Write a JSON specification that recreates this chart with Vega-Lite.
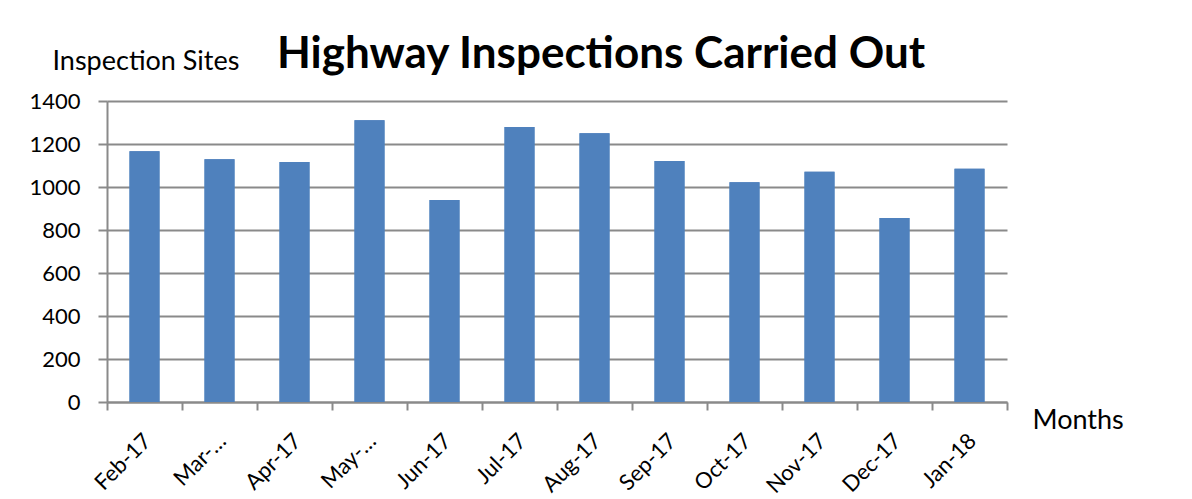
{
  "$schema": "https://vega.github.io/schema/vega-lite/v6.json",
  "autosize": {"type": "none"},
  "width": 900,
  "height": 301,
  "padding": {"left": 107, "top": 101, "right": 185, "bottom": 98},
  "background": "white",
  "title": {
    "text": "Highway Inspections Carried Out",
    "font": "Lato",
    "fontSize": 44,
    "fontWeight": "bold",
    "color": "black",
    "anchor": "middle",
    "frame": "group",
    "dx": 44,
    "dy": 65,
    "baseline": "alphabetic",
    "offset": 0
  },
  "data": {
    "values": [
      {"month": "Feb-17", "sites": 1166},
      {"month": "Mar-…", "sites": 1129},
      {"month": "Apr-17", "sites": 1116},
      {"month": "May-…", "sites": 1310},
      {"month": "Jun-17", "sites": 940},
      {"month": "Jul-17", "sites": 1279},
      {"month": "Aug-17", "sites": 1250},
      {"month": "Sep-17", "sites": 1121},
      {"month": "Oct-17", "sites": 1022},
      {"month": "Nov-17", "sites": 1071},
      {"month": "Dec-17", "sites": 856},
      {"month": "Jan-18", "sites": 1085}
    ]
  },
  "layer": [
    {
      "mark": {"type": "bar", "color": "#4f81bd"},
      "encoding": {
        "x": {
          "field": "month",
          "type": "nominal",
          "sort": null,
          "scale": {"paddingInner": 0.6, "paddingOuter": 0.3},
          "axis": {
            "title": "Months",
            "titleX": 925,
            "titleY": 26,
            "titleAlign": "left",
            "titleBaseline": "alphabetic",
            "titleAngle": 0,
            "titleFontSize": 27,
            "titleFontWeight": "normal",
            "labelAngle": -45,
            "labelAlign": "right",
            "labelBaseline": "top",
            "labelFontSize": 22,
            "labelOffset": -4,
            "labelPadding": 20,
            "tickSize": 8,
            "bandPosition": 1.75,
            "grid": false
          }
        },
        "y": {
          "field": "sites",
          "type": "quantitative",
          "scale": {"domain": [0, 1400], "nice": false},
          "axis": {
            "title": "Inspection Sites",
            "titleAngle": 0,
            "titleX": -55,
            "titleY": -32,
            "titleAlign": "left",
            "titleBaseline": "alphabetic",
            "titleFontSize": 27,
            "titleFontWeight": "normal",
            "values": [0, 200, 400, 600, 800, 1000, 1200, 1400],
            "format": "d",
            "labelFontSize": 22,
            "labelPadding": 18,
            "tickSize": 9,
            "grid": true
          }
        }
      }
    },
    {
      "mark": {"type": "bar", "color": "#4f81bd"},
      "encoding": {
        "x": {
          "field": "month",
          "type": "nominal",
          "sort": null,
          "axis": {
            "orient": "bottom",
            "title": null,
            "labels": false,
            "domain": false,
            "grid": false,
            "values": ["Feb-17"],
            "tickSize": 8,
            "bandPosition": -0.75
          }
        },
        "y": {"field": "sites", "type": "quantitative"}
      }
    }
  ],
  "resolve": {"axis": {"x": "independent"}},
  "config": {
    "font": "Lato",
    "view": {"stroke": null},
    "axis": {
      "labelColor": "black",
      "titleColor": "black",
      "labelFont": "Lato",
      "titleFont": "Lato",
      "domainColor": "#8a8a8a",
      "domainWidth": 2,
      "tickColor": "#8a8a8a",
      "tickWidth": 2,
      "gridColor": "#8a8a8a",
      "gridWidth": 2,
      "gridOpacity": 1
    }
  }
}
